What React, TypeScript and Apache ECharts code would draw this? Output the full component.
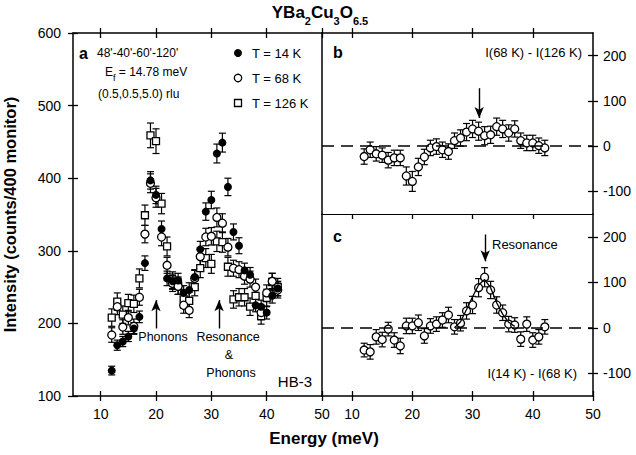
import React, { useEffect, useRef } from 'react';
import * as echarts from 'echarts';

const energies = [12,13,14,15,16,17,18,19,20,21,22,23,24,25,26,27,28,29,30,31,32,33,34,35,36,37,38,39,40,41,42];
const t14 = [135,170,175,182,193,209,283,397,377,330,262,258,259,242,246,264,302,354,370,434,449,388,326,307,273,267,225,223,215,238,248];
const t14Err = [6,7,7,7,8,8,10,12,12,11,10,10,10,10,10,10,11,12,12,13,13,12,11,11,10,10,9,9,9,10,10];
const t68 = [184,223,195,208,196,236,323,393,373,319,280,255,251,225,218,262,292,319,320,346,338,305,276,274,265,261,250,215,242,258,246];
const t68Err = [10,11,10,10,10,11,12,13,13,12,11,11,11,11,10,11,12,12,12,13,13,12,11,11,11,11,11,10,11,11,11];
const t126 = [208,230,212,228,227,262,349,459,451,365,306,259,252,233,231,250,276,290,282,313,312,278,233,236,236,223,238,210,235,257,250];
const t126Err = [12,12,12,12,12,13,14,17,17,14,13,12,12,12,12,12,13,13,13,14,14,13,12,12,12,12,12,11,12,12,12];
const diffB = [-23,-8,-17,-20,-31,-26,-26,-66,-78,-46,-24,-4,-1,-8,-12,12,18,31,38,33,23,25,43,38,29,38,12,7,7,1,-4];
const diffBErr = [17,17,16,16,17,17,17,20,22,19,17,17,17,17,17,17,18,19,19,20,20,19,19,19,18,18,17,17,17,17,17];
const diffC = [-49,-53,-20,-26,-3,-27,-40,4,4,11,-18,4,8,17,28,2,10,37,50,88,111,83,50,33,8,6,-25,8,-27,-20,2];
const diffCErr = [15,16,16,16,15,16,17,17,17,17,16,16,16,16,17,16,17,18,19,20,21,19,18,17,17,16,16,16,16,16,16];
const fitE = [27,28,29,30,31,32,33,34,35,36,37];
const fitC = [0,13,40,68,94,106,88,55,30,12,3];

const xTicks = [10,20,30,40,50];
const xTicksInner = [10,20,30,40];
const yTicksA = [100,200,300,400,500,600];
const yTicksBC = [-100,0,100,200];

// arrows: [energy, from, to]
const arrowsA = [[20, 193, 232], [31.4, 193, 232]];
const arrowB = [31.1, 128, 62];
const arrowC = [32.1, 205, 146];

const FONT = '"Liberation Sans", Arial, Helvetica, sans-serif';
const BLACK = '#000';

function xAx(grid: number, pos: string, inside: boolean, ticks: number[], opts: any = {}) {
  return {
    type: 'value', gridIndex: grid, position: pos, min: 5, max: 50,
    axisLine: { show: opts.line !== false, onZero: false, lineStyle: { color: BLACK, width: opts.lw || 1.5 } },
    axisTick: { show: ticks.length > 0, inside, length: 5, customValues: ticks, lineStyle: { color: BLACK, width: 1.3 } },
    axisLabel: opts.labels ? { show: true, customValues: opts.labels, margin: 11, color: BLACK, fontSize: 14, fontFamily: FONT } : { show: false },
    splitLine: { show: false },
  };
}

function yAx(grid: number, pos: string, inside: boolean, min: number, max: number, ticks: number[], opts: any = {}) {
  return {
    type: 'value', gridIndex: grid, position: pos, min, max,
    axisLine: { show: opts.line !== false, onZero: false, lineStyle: { color: BLACK, width: 1.5 } },
    axisTick: { show: ticks.length > 0, inside, length: 5, customValues: ticks, lineStyle: { color: BLACK, width: 1.3 } },
    axisLabel: opts.labels ? { show: true, customValues: opts.labels, margin: opts.margin || 12, color: BLACK, fontSize: 14, fontFamily: FONT } : { show: false },
    splitLine: { show: false },
    ...(opts.name ? {
      name: opts.name, nameLocation: 'middle', nameGap: 55, nameRotate: 90,
      nameTextStyle: { fontSize: 16.5, fontWeight: 'bold', fontFamily: FONT, color: BLACK },
    } : {}),
  };
}

function errSeries(xi: number, yi: number, vals: number[], errs: number[]) {
  return {
    type: 'custom', xAxisIndex: xi, yAxisIndex: yi,
    data: energies.map((e, i) => [e, vals[i], errs[i]]),
    encode: { x: 0, y: 1 },
    silent: true,
    renderItem: (_params: any, api: any) => {
      const x = api.value(0), y = api.value(1), er = api.value(2);
      const p1 = api.coord([x, y + er]);
      const p2 = api.coord([x, y - er]);
      const w = 3.5;
      const st = { stroke: BLACK, lineWidth: 1.2 };
      return {
        type: 'group', children: [
          { type: 'line', shape: { x1: p1[0], y1: p1[1], x2: p2[0], y2: p2[1] }, style: st },
          { type: 'line', shape: { x1: p1[0] - w, y1: p1[1], x2: p1[0] + w, y2: p1[1] }, style: st },
          { type: 'line', shape: { x1: p2[0] - w, y1: p2[1], x2: p2[0] + w, y2: p2[1] }, style: st },
        ],
      };
    },
  };
}

function symSeries(xi: number, yi: number, vals: number[], kind: string, extra: any = {}) {
  const filled = kind === 'filled';
  return {
    type: 'scatter', xAxisIndex: xi, yAxisIndex: yi,
    data: energies.map((e, i) => [e, vals[i]]),
    symbol: kind === 'square' ? 'rect' : 'circle',
    symbolSize: kind === 'square' ? 7 : 8,
    itemStyle: filled ? { color: BLACK, opacity: 1 } : { color: '#fff', borderColor: BLACK, borderWidth: 1.3, opacity: 1 },
    silent: true,
    ...extra,
  };
}

function arrowLine(a: number[]) {
  return [{ coord: [a[0], a[1]] }, { coord: [a[0], a[2]] }];
}

const arrowMark = (data: any[]) => ({
  silent: true, symbol: ['none', 'arrow'], symbolSize: [7, 11],
  label: { show: false },
  lineStyle: { color: BLACK, width: 1.4, type: 'solid' },
  data,
});

const zeroMark = () => ({
  silent: true, symbol: ['none', 'none'],
  label: { show: false },
  lineStyle: { color: BLACK, width: 1.6, type: [12, 7] },
  data: [{ yAxis: 0 }],
});

function txt(text: string, x: number, y: number, size: number, align = 'left', bold = false) {
  return {
    type: 'text', x, y, silent: true,
    style: {
      text, fill: BLACK, fontSize: size, fontFamily: FONT, fontWeight: bold ? 'bold' : 'normal',
      textAlign: align, textVerticalAlign: 'middle',
    },
  };
}

export default function App() {
  const ref = useRef<HTMLDivElement>(null);
  useEffect(() => {
    document.body.style.margin = '0';
    if (!ref.current) return;
    const chart = echarts.init(ref.current, undefined, { renderer: 'svg' });

    const grids = [
      { left: 71, top: 33, width: 251, height: 363 },
      { left: 322, top: 33, width: 271, height: 181 },
      { left: 322, top: 214, width: 271, height: 182 },
    ];

    const xAxes = [
      xAx(0, 'bottom', true, xTicks, { labels: xTicks }), // 0
      xAx(0, 'bottom', false, xTicks, { line: false }), // 1
      xAx(0, 'top', true, xTicks), // 2
      xAx(0, 'top', false, xTicks, { line: false }), // 3
      xAx(1, 'top', true, xTicksInner), // 4
      xAx(1, 'top', false, xTicksInner, { line: false }), // 5
      xAx(2, 'top', true, xTicksInner, { lw: 1 }), // 6
      xAx(2, 'bottom', true, xTicks, { labels: xTicks }), // 7
      xAx(2, 'bottom', false, xTicks, { line: false }), // 8
    ];
    const yAxes = [
      yAx(0, 'left', true, 100, 600, yTicksA, { labels: yTicksA, name: 'Intensity (counts/400 monitor)' }), // 0
      yAx(0, 'left', false, 100, 600, yTicksA, { line: false }), // 1
      yAx(1, 'right', true, -150, 250, yTicksBC, { labels: yTicksBC, margin: 10 }), // 2
      yAx(1, 'right', false, -150, 250, yTicksBC, { line: false }), // 3
      yAx(1, 'left', true, -150, 250, [], {}), // 4
      yAx(2, 'right', true, -150, 250, yTicksBC, { labels: yTicksBC, margin: 10 }), // 5
      yAx(2, 'right', false, -150, 250, yTicksBC, { line: false }), // 6
      yAx(2, 'left', true, -150, 250, [], {}), // 7
    ];

    const series: any[] = [
      errSeries(0, 0, t126, t126Err),
      symSeries(0, 0, t126, 'square', { markLine: arrowMark(arrowsA.map(arrowLine)) }),
      errSeries(0, 0, t68, t68Err),
      symSeries(0, 0, t68, 'open'),
      errSeries(0, 0, t14, t14Err),
      symSeries(0, 0, t14, 'filled'),
      // panel b
      errSeries(4, 2, diffB, diffBErr),
      {
        ...symSeries(4, 2, diffB, 'open'),
        markLine: zeroMark(),
      },
      {
        type: 'scatter', xAxisIndex: 4, yAxisIndex: 2, data: [], silent: true,
        markLine: arrowMark([arrowLine(arrowB)]),
      },
      // panel c
      {
        type: 'line', xAxisIndex: 7, yAxisIndex: 5,
        data: fitE.map((e, i) => [e, fitC[i]]),
        showSymbol: false, symbol: 'none', silent: true,
        lineStyle: { color: BLACK, width: 1.3 },
        markLine: zeroMark(),
      },
      errSeries(7, 5, diffC, diffCErr),
      symSeries(7, 5, diffC, 'open'),
      {
        type: 'scatter', xAxisIndex: 7, yAxisIndex: 5, data: [], silent: true,
        markLine: arrowMark([arrowLine(arrowC)]),
      },
    ];

    const graphic: any[] = [
      // title
      {
        type: 'text', x: 320, y: 15, silent: true,
        style: {
          text: '{b|YBa}{s|2}{b|Cu}{s|3}{b|O}{s|6.5}',
          textAlign: 'center', textVerticalAlign: 'middle',
          rich: {
            b: { fontSize: 17, fontWeight: 'bold', fontFamily: FONT, fill: BLACK, lineHeight: 22, verticalAlign: 'top' },
            s: { fontSize: 11, fontWeight: 'bold', fontFamily: FONT, fill: BLACK, lineHeight: 11, verticalAlign: 'bottom' },
          },
        },
      },
      txt('Energy (meV)', 324, 438, 17, 'center', true),
      // panel a
      txt('a', 79, 53, 16, 'left', true),
      txt("48'-40'-60'-120'", 97, 53, 12),
      {
        type: 'text', x: 105, y: 74, silent: true,
        style: {
          text: '{n|E}{s|f}{n| = 14.78 meV}',
          textAlign: 'left', textVerticalAlign: 'middle',
          rich: {
            n: { fontSize: 12, fontFamily: FONT, fill: BLACK, lineHeight: 16, verticalAlign: 'top' },
            s: { fontSize: 9, fontFamily: FONT, fill: BLACK, lineHeight: 9, verticalAlign: 'bottom' },
          },
        },
      },
      txt('(0.5,0.5,5.0) rlu', 98, 94, 12),
      { type: 'circle', silent: true, shape: { cx: 238, cy: 53, r: 4 }, style: { fill: BLACK } },
      { type: 'circle', silent: true, shape: { cx: 238, cy: 78, r: 3.7 }, style: { fill: '#fff', stroke: BLACK, lineWidth: 1.3 } },
      { type: 'rect', silent: true, shape: { x: 234.5, y: 99.5, width: 7, height: 7 }, style: { fill: '#fff', stroke: BLACK, lineWidth: 1.3 } },
      txt('T = 14 K', 252, 53, 13),
      txt('T = 68 K', 252, 78, 13),
      txt('T = 126 K', 252, 103, 13),
      txt('Phonons', 163, 337, 12.5, 'center'),
      txt('Resonance', 228, 337, 12.5, 'center'),
      txt('&', 229, 355, 12.5, 'center'),
      txt('Phonons', 231, 373, 12.5, 'center'),
      txt('HB-3', 312, 381, 15, 'right'),
      // panel b
      txt('b', 333, 52, 16, 'left', true),
      txt('I(68 K) - I(126 K)', 582, 52, 13, 'right'),
      // panel c
      txt('c', 333, 236, 16, 'left', true),
      txt('Resonance', 492, 244, 13, 'left'),
      txt('I(14 K) - I(68 K)', 577, 373, 13, 'right'),
    ];

    chart.setOption({
      animation: false,
      backgroundColor: '#fff',
      grid: grids,
      xAxis: xAxes,
      yAxis: yAxes,
      series,
      graphic,
    });
    return () => chart.dispose();
  }, []);
  return <div ref={ref} style={{ width: 636, height: 455 }} />;
}
